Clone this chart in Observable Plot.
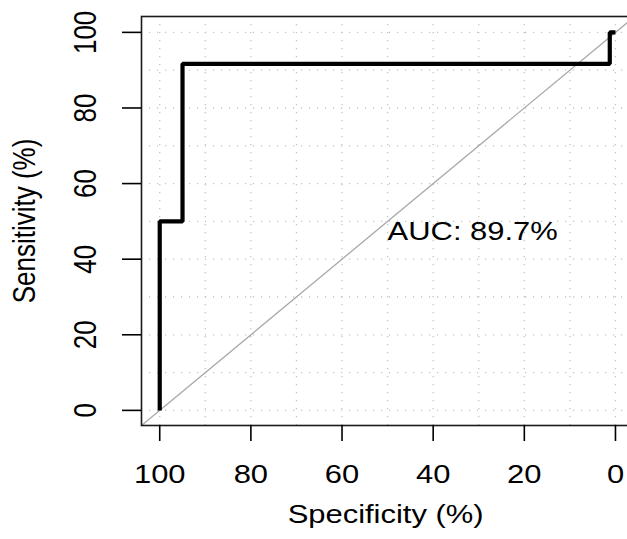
<!DOCTYPE html>
<html><head><meta charset="utf-8">
<script src="https://cdn.jsdelivr.net/npm/d3@7"></script>
<script src="https://cdn.jsdelivr.net/npm/@observablehq/plot@0.6"></script>
<style>body{margin:0;background:#fff;} svg{display:block}</style>
</head><body><div id="chart"></div>
<script>
// ROC curve (pROC style, percent scale)
const specificity = [100, 100, 95, 95, 1.25, 1.25, 0];
const sensitivity = [0, 50, 50, 91.67, 91.67, 100, 100];
const aucLabel = "AUC: 89.7%";
const aucSpec = 50;
const aucSens = 50;
const tickValues = [0, 20, 40, 60, 80, 100];
const gridValues = [0, 10, 20, 30, 40, 50, 60, 70, 80, 90, 100];
const identitySpec = [104, -4];
const identitySens = [-4, 104];
const xTitle = "Specificity (%)";
const yTitle = "Sensitivity (%)";

const roc = specificity.map((s, i) => ({spec: s, sens: sensitivity[i]}));
const identity = identitySpec.map((s, i) => ({spec: s, sens: identitySens[i]}));
const aucData = [{spec: aucSpec, sens: aucSens, label: aucLabel}];

const FS = 26;
const plot = Plot.plot({
  width: 627, height: 539,
  marginLeft: 141, marginRight: -6.2, marginTop: 16, marginBottom: 114,
  style: {fontFamily: "'Liberation Sans', Arial, sans-serif", fontSize: FS + "px", background: "#fff", color: "#000"},
  x: {domain: [104, -4]},
  y: {domain: [-4, 104.2]},
  marks: [
    Plot.ruleX(gridValues, {stroke: "#c4c4c4", strokeWidth: 1.3, strokeDasharray: "1.2,6.8"}),
    Plot.ruleY(gridValues, {stroke: "#c4c4c4", strokeWidth: 1.3, strokeDasharray: "1.2,6.8"}),
    Plot.line(identity, {x: "spec", y: "sens", stroke: "#a9a9a9", strokeWidth: 1.3}),
    Plot.line(roc, {x: "spec", y: "sens", stroke: "#000", strokeWidth: 4.2, strokeLinejoin: "miter", strokeLinecap: "butt"}),
    Plot.frame({stroke: "#1a1a1a", strokeWidth: 1.6}),
    Plot.axisX({anchor: "bottom", ticks: tickValues, tickSize: 16, tickPadding: 23, fontSize: FS, strokeWidth: 1.6, label: null}),
    Plot.axisY({anchor: "left", ticks: tickValues, tickSize: 19, tickPadding: 27, tickRotate: -90, fontSize: FS, strokeWidth: 1.6, label: null}),
    Plot.text(aucData, {x: "spec", y: "sens", text: "label", textAnchor: "start", lineAnchor: "top", fontSize: FS, fill: "#000"}),
    Plot.text([xTitle], {frameAnchor: "bottom", text: d => d, dy: 97.7, dx: -2, textAnchor: "middle", lineAnchor: "bottom", fontSize: FS, fill: "#000"}),
    Plot.text([yTitle], {frameAnchor: "left", text: d => d, rotate: -90, dx: -107, textAnchor: "middle", lineAnchor: "bottom", fontSize: FS, fill: "#000"})
  ]
});

// The reference output is horizontally stretched; widen glyphs accordingly.
const sx = 1.19;
d3.select(plot).selectAll("text").each(function() {
  const t = d3.select(this);
  const tr = t.attr("transform");
  if (!tr) return;
  const rot = /rotate\(\s*-90/.test(tr);
  t.attr("transform", `${tr} ${rot ? `scale(1,${sx})` : `scale(${sx},1)`}`);
});
document.getElementById("chart").appendChild(plot);
</script>
</body></html>
